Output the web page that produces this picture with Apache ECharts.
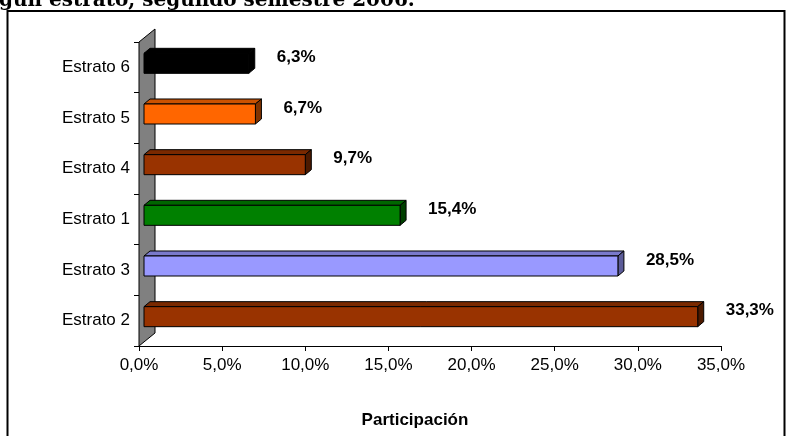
<!DOCTYPE html>
<html>
<head>
<meta charset="utf-8">
<script src="https://cdn.jsdelivr.net/npm/echarts@6/dist/echarts.min.js"></script>
<style>
html,body{margin:0;padding:0;background:#fff;}
#chart{width:786px;height:436px;}
</style>
</head>
<body>
<div id="chart"></div>
<script>
var categories = ['Estrato 2', 'Estrato 3', 'Estrato 1', 'Estrato 4', 'Estrato 5', 'Estrato 6'];
var values = [33.3, 28.5, 15.4, 9.7, 6.7, 6.3];
var xTicks = [0, 5, 10, 15, 20, 25, 30, 35];
var titleText = 'gún estrato, segundo semestre 2006.';
var axisTitle = 'Participación';

var frontColors = ['#993300', '#9999FF', '#008000', '#993300', '#FF6600', '#000000'];
var topColors   = ['#7a2900', '#7a7acc', '#006600', '#7a2900', '#cc5200', '#000000'];
var sideColors  = ['#4d1a00', '#5c5c99', '#004000', '#4d1a00', '#803300', '#000000'];

function fmt(v){ return v.toFixed(1).replace('.', ',') + '%'; }

var chart = echarts.init(document.getElementById('chart'), null, {renderer:'canvas'});

var FONT = 'Liberation Sans, Arial, sans-serif';
var option = {
  animation: false,
  backgroundColor: '#fff',
  grid: {left: 139, right: 65, top: 42, bottom: 90, containLabel: false},
  graphic: [
    {type:'rect', shape:{x:7.5, y:11, width:777, height:440}, style:{fill:'none', stroke:'#000', lineWidth:2}, z:0},
    {type:'text', x:-1, y:1, style:{text:titleText, font:'bold 20px "DejaVu Serif", serif', fill:'#000', verticalAlign:'middle', align:'left'}, z:10}
  ],
  xAxis: {
    type: 'value', min: xTicks[0], max: xTicks[xTicks.length-1], interval: 5,
    axisLine: {show:true, lineStyle:{color:'#000', width:1}},
    axisTick: {show:true, length:5, lineStyle:{color:'#000'}},
    splitLine: {show:false},
    axisLabel: {formatter: function(v){return fmt(v);}, fontFamily: FONT, fontSize: 17, color:'#000', margin: 11},
    name: axisTitle, nameLocation: 'middle', nameGap: 66,
    nameTextStyle: {fontFamily: FONT, fontSize: 17, fontWeight:'bold', color:'#000', padding:[0, 30, 0, 0]}
  },
  yAxis: {
    type: 'category', data: categories,
    axisLine: {show:false},
    axisTick: {show:true, length:5, lineStyle:{color:'#000'}},
    axisLabel: {fontFamily: FONT, fontSize: 17, color:'#000', margin: 9, padding:[0,0,6,0]}
  },
  series: [
    {
      type: 'custom', name: 'wall', data: [[0, 0]], clip: false, z: 1,
      renderItem: function(params, api){
        var cs = params.coordSys;
        var x = cs.x, y = cs.y, h = cs.height;
        var dx = 16, dy = -13;
        return {
          type: 'group',
          children: [
            {type:'polygon', shape:{points:[[x, y], [x+dx, y+dy], [x+dx, y+h+dy], [x, y+h]]},
             style:{fill:'#808080', stroke:'#000', lineWidth:1}}
          ]
        };
      }
    },
    {
      type: 'custom', name: 'Participación',
      data: values.map(function(v, i){ return [v, i]; }),
      clip: false, z: 3,
      renderItem: function(params, api){
        var v = api.value(0), i = api.value(1);
        var p0 = api.coord([0, i]);
        var p1 = api.coord([v, i]);
        var band = api.size([0, 1])[1];
        var bh = band * 0.395;
        var ox = 5, oy = -4, ddx = 6, ddy = -5;
        var xl = p0[0] + ox, xr = p1[0] + ox;
        var yc = p0[1] + oy;
        var yt = yc - bh/2, yb = yc + bh/2;
        var idx = params.dataIndex;
        var st = {stroke:'#000', lineWidth:1};
        return {
          type:'group',
          children:[
            {type:'polygon', shape:{points:[[xl,yt],[xl+ddx,yt+ddy],[xr+ddx,yt+ddy],[xr,yt]]},
             style:Object.assign({fill: topColors[idx]}, st)},
            {type:'polygon', shape:{points:[[xr,yt],[xr+ddx,yt+ddy],[xr+ddx,yb+ddy],[xr,yb]]},
             style:Object.assign({fill: sideColors[idx]}, st)},
            {type:'rect', shape:{x:xl, y:yt, width:xr-xl, height:bh},
             style:Object.assign({fill: frontColors[idx]}, st)},
            {type:'text', x: xr + 28, y: yc - 6,
             style:{text: fmt(v), font:'bold 17px ' + FONT, fill:'#000', align:'left', verticalAlign:'middle'}}
          ]
        };
      }
    }
  ]
};
chart.setOption(option);
</script>
</body>
</html>
